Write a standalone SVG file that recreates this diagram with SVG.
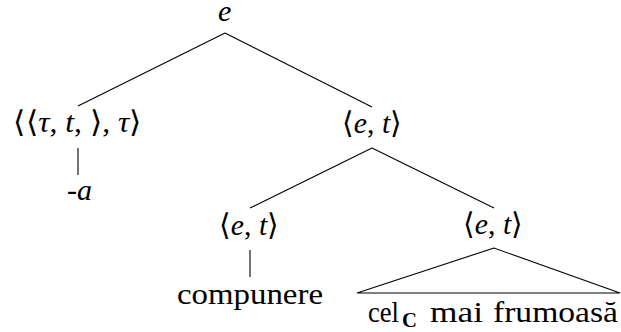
<svg xmlns="http://www.w3.org/2000/svg" width="621" height="332" viewBox="0 0 621 332" font-family="Times New Roman, Liberation Serif, serif" font-size="30">
<rect width="621" height="332" fill="#fff"/>
<g id="connectors" stroke="#000" stroke-width="1.1" fill="none">
  <line x1="225" y1="33" x2="78" y2="106"/>
  <line x1="225" y1="33" x2="372" y2="107"/>
  <line x1="78" y1="148" x2="78" y2="175"/>
  <line x1="372" y1="148" x2="250" y2="208"/>
  <line x1="372" y1="148" x2="494" y2="208"/>
  <line x1="250" y1="250" x2="250" y2="277"/>
  <path d="M494,248 L357,293 L620,293 Z"/>
</g>
<g id="root">
  <text font-style="italic" x="218" y="21">e</text>
</g>
<g id="n-tau">
  <text x="13" y="132" textLength="129" lengthAdjust="spacingAndGlyphs">&#x27E8;&#x27E8;<tspan font-style="italic">&#x3C4;</tspan>, <tspan font-style="italic">t</tspan>, &#x27E9;, <tspan font-style="italic">&#x3C4;</tspan>&#x27E9;</text>
</g>
<g id="leaf-a">
  <text x="67" y="200">-<tspan font-style="italic">a</tspan></text>
</g>
<g id="n-et1">
  <text x="342" y="133" textLength="60" lengthAdjust="spacingAndGlyphs">&#x27E8;<tspan font-style="italic">e</tspan>, <tspan font-style="italic">t</tspan>&#x27E9;</text>
</g>
<g id="n-et2">
  <text x="219" y="235" textLength="60" lengthAdjust="spacingAndGlyphs">&#x27E8;<tspan font-style="italic">e</tspan>, <tspan font-style="italic">t</tspan>&#x27E9;</text>
</g>
<g id="n-et3">
  <text x="463" y="234" textLength="60" lengthAdjust="spacingAndGlyphs">&#x27E8;<tspan font-style="italic">e</tspan>, <tspan font-style="italic">t</tspan>&#x27E9;</text>
</g>
<g id="leaf-compunere">
  <text x="177" y="304" textLength="146" lengthAdjust="spacingAndGlyphs">compunere</text>
</g>
<g id="leaf-cel">
  <text x="368" y="322" textLength="31" lengthAdjust="spacingAndGlyphs">cel</text>
  <text font-size="21" font-weight="bold" x="402" y="327" textLength="15" lengthAdjust="spacingAndGlyphs">C</text>
  <text x="430" y="322" textLength="53" lengthAdjust="spacingAndGlyphs">mai</text>
  <text x="493" y="322" textLength="125" lengthAdjust="spacingAndGlyphs">frumoas&#x103;</text>
</g>
</svg>
